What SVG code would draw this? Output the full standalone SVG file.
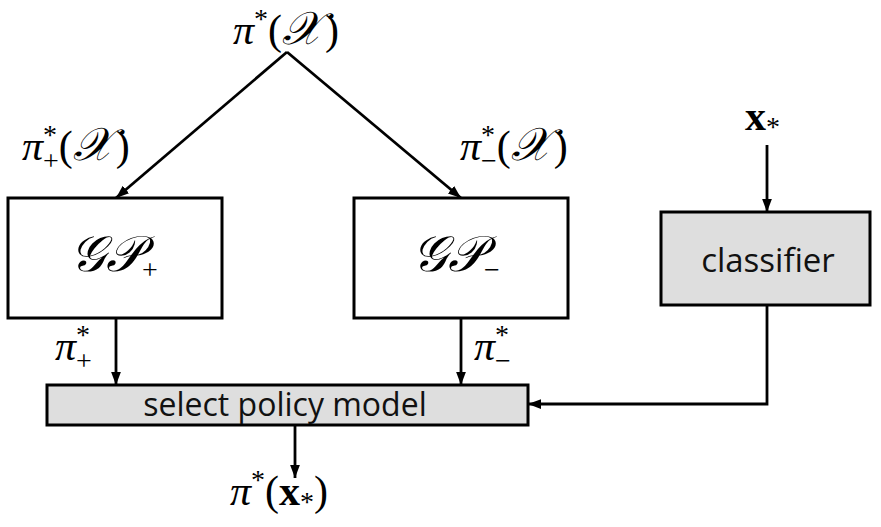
<svg xmlns="http://www.w3.org/2000/svg" width="881" height="527" viewBox="0 0 881 527">
<style>
.box{stroke:#000;stroke-width:3;fill:#fff}
.gray{fill:#dedede}
.edge{stroke:#000;stroke-width:2.8;fill:none;marker-end:url(#ah)}
.m{font-family:"Liberation Serif","DejaVu Serif",serif;font-size:42px;fill:#000}
.i{font-style:italic}
.sc{font-size:46px}
.s{font-family:"Open Sans","DejaVu Sans",sans-serif;fill:#111}
.sub{font-size:28px}
</style>
<defs>
<marker id="ah" markerWidth="13" markerHeight="14" refX="12" refY="5" orient="auto" markerUnits="userSpaceOnUse" viewBox="0 0 12 10">
<path d="M0,0.5 L12,5 L0,9.5 Z" fill="#000"/>
</marker>
</defs>
<g id="connectors">
<path class="edge" d="M287,52 L116,198"/>
<path class="edge" d="M287,52 L461,198"/>
<path class="edge" d="M767,145 L767,212"/>
<path class="edge" d="M116,318 L116,385"/>
<path class="edge" d="M461,318 L461,385"/>
<path class="edge" d="M767,305 L767,404 L528,404"/>
<path class="edge" d="M295,425 L295,478"/>
</g>
<g id="gp_plus">
<rect class="box" x="8" y="198" width="214" height="120"/>
<text class="m" x="70" y="271"><tspan class="i" font-size="50">𝒢𝒫</tspan><tspan class="sub" dy="8">+</tspan></text>
</g>
<g id="gp_minus">
<rect class="box" x="354" y="198" width="214" height="120"/>
<text class="m" x="412" y="271"><tspan class="i" font-size="50">𝒢𝒫</tspan><tspan class="sub" dy="8">−</tspan></text>
</g>
<g id="classifier">
<rect class="box gray" x="661" y="212" width="209" height="93"/>
<text class="s" x="768" y="272" font-size="33" text-anchor="middle">classifier</text>
</g>
<g id="select">
<rect class="box gray" x="47" y="385" width="481" height="40"/>
<text class="s" x="285" y="416" font-size="32" text-anchor="middle">select policy model</text>
</g>
<g id="labels">
<text class="m" x="233" y="44"><tspan class="i">π</tspan><tspan class="sub" dy="-16">*</tspan><tspan dy="16">(</tspan><tspan class="i sc">𝒳</tspan><tspan dx="3">)</tspan></text>
<text class="m" x="22" y="160"><tspan class="i">π</tspan><tspan class="sub" dy="-16">*</tspan><tspan class="sub" dx="-14" dy="26">+</tspan><tspan dy="-10">(</tspan><tspan class="i sc">𝒳</tspan><tspan dx="3">)</tspan></text>
<text class="m" x="460" y="160"><tspan class="i">π</tspan><tspan class="sub" dy="-16">*</tspan><tspan class="sub" dx="-14" dy="26">−</tspan><tspan dy="-10">(</tspan><tspan class="i sc">𝒳</tspan><tspan dx="3">)</tspan></text>
<text class="m" x="745" y="130" font-weight="bold">x<tspan class="sub" font-weight="normal" dy="6">*</tspan></text>
<text class="m" x="55" y="360"><tspan class="i">π</tspan><tspan class="sub" dy="-16">*</tspan><tspan class="sub" dx="-14" dy="26">+</tspan></text>
<text class="m" x="474" y="360"><tspan class="i">π</tspan><tspan class="sub" dy="-16">*</tspan><tspan class="sub" dx="-14" dy="26">−</tspan></text>
<text class="m" x="230" y="505"><tspan class="i">π</tspan><tspan class="sub" dy="-16">*</tspan><tspan dy="16">(</tspan><tspan font-weight="bold">x</tspan><tspan class="sub" dy="6">*</tspan><tspan dy="-6">)</tspan></text>
</g>
</svg>
